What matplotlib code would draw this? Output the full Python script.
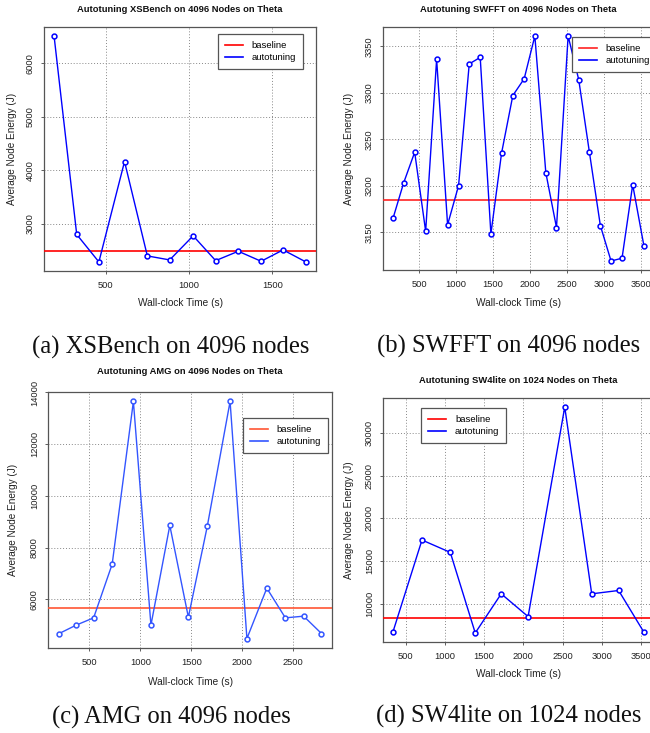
import numpy as np
import matplotlib
matplotlib.use("Agg")
import matplotlib.pyplot as plt

plt.rcParams['font.family'] = ['Liberation Sans', 'DejaVu Sans']

W, H = 650, 733

# ---- data -------------------------------------------------------------
xs_time = [189, 325, 458, 612, 749, 883, 1024, 1159, 1295, 1432, 1564, 1701]
xs_energy = [6506, 2800, 2288, 4162, 2400, 2325, 2775, 2312, 2487, 2300, 2512, 2287]
xs_baseline = 2500

sw_time = [150, 293, 442, 590, 738, 886, 1034, 1178, 1326, 1470, 1614, 1766,
           1919, 2063, 2211, 2355, 2512, 2655, 2799, 2947, 3091, 3239, 3383, 3535]
sw_energy = [3165, 3203, 3236, 3151, 3336, 3158, 3200, 3331, 3338, 3148, 3235, 3297,
             3315, 3361, 3214, 3155, 3361, 3314, 3236, 3157, 3119, 3122, 3201, 3135]
sw_baseline = 3185

amg_time = [198, 370, 542, 724, 932, 1104, 1289, 1471, 1656, 1880, 2045, 2240,
            2422, 2601, 2776]
amg_energy = [4658, 4994, 5277, 7355, 13652, 4994, 8852, 5303, 8813, 13652, 4477,
              6426, 5277, 5342, 4671]
amg_baseline = 5639

sw4_time = [339, 708, 1069, 1387, 1718, 2061, 2528, 2872, 3215, 3538]
sw4_energy = [6754, 17464, 16017, 6598, 11173, 8514, 33011, 11173, 11564, 6676]
sw4_baseline = 8397

xs_xticks = [500, 1000, 1500]
xs_yticks = [3000, 4000, 5000, 6000]
sw_xticks = [500, 1000, 1500, 2000, 2500, 3000, 3500]
sw_yticks = [3150, 3200, 3250, 3300, 3350]
amg_xticks = [500, 1000, 1500, 2000, 2500]
amg_yticks = [6000, 8000, 10000, 12000, 14000]
sw4_xticks = [500, 1000, 1500, 2000, 2500, 3000, 3500]
sw4_yticks = [10000, 15000, 20000, 25000, 30000]

titles = ["Autotuning XSBench on 4096 Nodes on Theta",
          "Autotuning SWFFT on 4096 Nodes on Theta",
          "Autotuning AMG on 4096 Nodes on Theta",
          "Autotuning SW4lite on 1024 Nodes on Theta"]
ylabels = ["Average Node Energy (J)", "Average Node Energy (J)",
           "Average Node Energy (J)", "Average Nodee Energy (J)"]
xlabel = "Wall-clock Time (s)"
captions = ["(a) XSBench on 4096 nodes", "(b) SWFFT on 4096 nodes",
            "(c) AMG on 4096 nodes", "(d) SW4lite on 1024 nodes"]

# ---- layout helpers (pixel boxes: left, right, top, bottom) -------------
fig = plt.figure(figsize=(W / 100, H / 100), dpi=100)


def px_axes(l, r, t, b):
    return fig.add_axes([l / W, 1 - b / H, (r - l) / W, (b - t) / H])


def fx(x):
    return x / W


def fy(y):
    return 1 - y / H


panels = [
    dict(box=(44, 316, 27, 271), t=xs_time, e=xs_energy, base=xs_baseline,
         xt=xs_xticks, yt=xs_yticks, lc='#0000ff', bc='#ff0000',
         leg=('upper right', (303, 34)), title_xy=(180, 9), ylab_x=12,
         xlab_xy=(180, 303), cap_xy=(171, 347)),
    dict(box=(383, 654, 27, 270), t=sw_time, e=sw_energy, base=sw_baseline,
         xt=sw_xticks, yt=sw_yticks, lc='#0000ff', bc='#ff2222',
         leg=('upper right', (657, 37)), title_xy=(518, 9), ylab_x=349,
         xlab_xy=(518, 303), cap_xy=(509, 346)),
    dict(box=(48, 332, 392, 648), t=amg_time, e=amg_energy, base=amg_baseline,
         xt=amg_xticks, yt=amg_yticks, lc='#3355ff', bc='#ff5533',
         leg=('upper right', (328, 418)), title_xy=(190, 372), ylab_x=13,
         xlab_xy=(190, 682), cap_xy=(171, 717)),
    dict(box=(383, 654, 398, 642), t=sw4_time, e=sw4_energy, base=sw4_baseline,
         xt=sw4_xticks, yt=sw4_yticks, lc='#0000ff', bc='#ff0000',
         leg=('upper left', (421, 408)), title_xy=(518, 380), ylab_x=349,
         xlab_xy=(518, 674), cap_xy=(509, 716)),
]

for i, p in enumerate(panels):
    l, r, t, b = p['box']
    ax = px_axes(l, r, t, b)
    t_arr = np.asarray(p['t'], dtype=float)
    e_arr = np.asarray(p['e'], dtype=float)

    # R-style 4% padding around the data range
    xr = t_arr.max() - t_arr.min()
    yr = e_arr.max() - e_arr.min()
    ax.set_xlim(t_arr.min() - 0.04 * xr, t_arr.max() + 0.04 * xr)
    ax.set_ylim(e_arr.min() - 0.04 * yr, e_arr.max() + 0.04 * yr)

    ax.axhline(p['base'], color=p['bc'], lw=1.2, label='baseline', zorder=3)
    ax.plot(t_arr, e_arr, color=p['lc'], lw=1.0, marker='o', ms=3.5,
            mfc='white', mec=p['lc'], mew=1.1, label='autotuning', zorder=4)

    ax.set_xticks(p['xt'])
    ax.set_xticklabels([str(v) for v in p['xt']])
    ax.set_yticks(p['yt'])
    ax.set_yticklabels([str(v) for v in p['yt']], rotation=90, va='center')
    ax.tick_params(labelsize=6.7, length=2.5, width=0.6, colors='#444444',
                   labelcolor='#222222')
    ax.tick_params(axis='x', pad=4.5)
    ax.tick_params(axis='y', pad=4.0)
    ax.grid(True, color='#888888', lw=0.7, ls=(0, (1, 2)))
    ax.set_axisbelow(True)
    for s in ax.spines.values():
        s.set_color('#555555')
        s.set_linewidth(0.9)

    # legend anchored at its corner in pixels
    loc, (lx, ly) = p['leg']
    ax_x = (lx - l) / (r - l)
    ax_y = (b - ly) / (b - t)
    leg = ax.legend(loc=loc, bbox_to_anchor=(ax_x, ax_y), fontsize=6.8,
                    frameon=True, fancybox=False, edgecolor='#555555',
                    handlelength=1.9, handletextpad=0.95, borderpad=0.75,
                    labelspacing=0.3, borderaxespad=0.0, framealpha=1)
    leg.get_frame().set_linewidth(0.9)
    for h in leg.legend_handles:
        h.set_marker('')
        h.set_linewidth(1.2)

    tx, ty = p['title_xy']
    fig.text(fx(tx), fy(ty), titles[i], ha='center', va='center',
             fontsize=6.75, fontweight='bold', color='#111111')
    fig.text(fx(p['ylab_x']), fy((t + b) / 2), ylabels[i], rotation=90,
             ha='center', va='center', fontsize=7.2, color='#222222')
    xx, xy = p['xlab_xy']
    fig.text(fx(xx), fy(xy), xlabel, ha='center', va='center', fontsize=7.3,
             color='#222222')
    cx, cy = p['cap_xy']
    fig.text(fx(cx), fy(cy), captions[i], ha='center', va='center',
             fontsize=17.7, family=['Liberation Serif', 'DejaVu Serif'],
             color='#111111')

fig.savefig("out.png", dpi=100)
